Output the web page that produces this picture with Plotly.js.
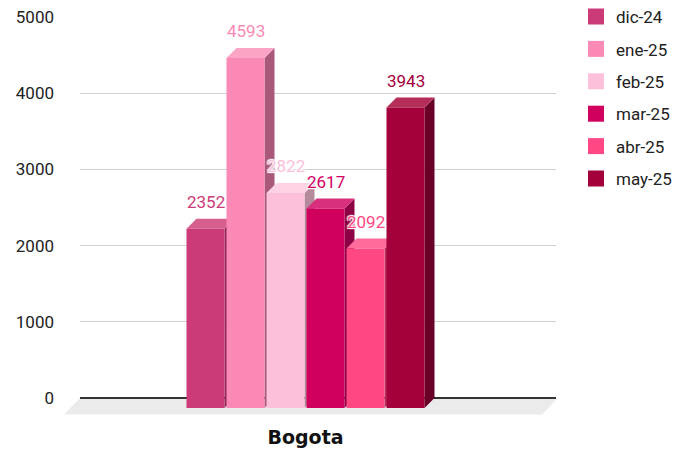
<!DOCTYPE html>
<html>
<head>
<meta charset="utf-8">
<script src="https://cdn.plot.ly/plotly-3.0.1.min.js"></script>
<style>
  html, body { margin: 0; padding: 0; background: #fff; }
  #chart { width: 678px; height: 451px; }
</style>
</head>
<body>
<div id="chart"></div>
<script>
// ---- data ----
const categories = ['Bogota'];
const months = ['dic-24', 'ene-25', 'feb-25', 'mar-25', 'abr-25', 'may-25'];
const values = [2352, 4593, 2822, 2617, 2092, 3943];

// ---- styles ----
const frontColors = ['#cc3b77', '#fa89b5', '#fcc0da', '#d1005f', '#ff4784', '#a4003b'];
const topColors   = ['#d65f8f', '#fca4c6', '#fdd2e4', '#d8307c', '#ff6b9b', '#b52d59'];
const sideColors  = ['#912857', '#a9587a', '#b58a9c', '#8d0044', '#b8335f', '#680027'];

// geometry (axis units)
const Y_MIN = -262, Y_MAX = 5000;
const X_MIN = -3.1375, X_MAX = 8.7625;
const BAR_W = 0.95;   // front face width
const DX = 0.25;      // depth offset in x units
const DY = 131;       // depth offset in y units

const traces = [];
values.forEach((v, i) => {
  const xc = i;
  const xL = xc - BAR_W / 2, xR = xc + BAR_W / 2;
  // side face
  traces.push({
    type: 'scatter', mode: 'lines', fill: 'toself', showlegend: false, hoverinfo: 'skip',
    x: [xR, xR, xR + DX, xR + DX, xR], y: [-DY, v - DY, v, 0, -DY],
    line: {width: 0, color: sideColors[i]}, fillcolor: sideColors[i]
  });
  // top face
  traces.push({
    type: 'scatter', mode: 'lines', fill: 'toself', showlegend: false, hoverinfo: 'skip',
    x: [xL, xR, xR + DX, xL + DX, xL], y: [v - DY, v - DY, v, v, v - DY],
    line: {width: 0, color: topColors[i]}, fillcolor: topColors[i]
  });
  // front face
  traces.push({
    type: 'scatter', mode: 'lines', fill: 'toself', showlegend: false,
    name: months[i], text: String(v), hoverinfo: 'name+text',
    x: [xL, xR, xR, xL, xL], y: [-DY, -DY, v - DY, v - DY, -DY],
    line: {width: 0, color: frontColors[i]}, fillcolor: frontColors[i]
  });
});
// legend entries
months.forEach((m, i) => {
  traces.push({
    type: 'scatter', mode: 'markers', x: [null], y: [null], name: m,
    legendgroup: m, showlegend: true,
    marker: {symbol: 'square', size: 16, color: frontColors[i]}
  });
});

const halo = '1px 1px 1px #fff, -1px -1px 1px #fff, 1px -1px 1px #fff, -1px 1px 1px #fff';
const annotations = values.map((v, i) => ({
  x: i, y: v, xref: 'x', yref: 'y', text: String(v), showarrow: false,
  yshift: 17, xanchor: 'center', yanchor: 'middle',
  font: {family: 'Roboto, Arial, sans-serif', size: 17, color: frontColors[i], shadow: halo}
}));

// floor (decoration), in paper coords derived from axis ranges
const yZero = (0 - Y_MIN) / (Y_MAX - Y_MIN);
const plotW = 678 - 80 - 122, plotH = 451 - 17 - 33;
const fx = 16 / plotW, fy = 16.5 / plotH;
const shapes = [{
  type: 'path', xref: 'paper', yref: 'paper', layer: 'below',
  path: `M 0,${yZero} L ${1 + 2 / plotW},${yZero} L ${1 + 2 / plotW - fx},${yZero - fy} L ${-fx},${yZero - fy} Z`,
  fillcolor: '#ebebeb', line: {width: 0}
}];

const layout = {
  width: 678, height: 451,
  margin: {l: 80, r: 122, t: 17, b: 33, autoexpand: false},
  paper_bgcolor: '#fff', plot_bgcolor: 'rgba(0,0,0,0)',
  showlegend: true,
  legend: {
    x: 1.042, xanchor: 'left', y: 1.045, yanchor: 'top',
    font: {family: 'Roboto, Arial, sans-serif', size: 17, color: '#222'},
    itemsizing: 'trace', tracegroupgap: 7.3, bgcolor: 'rgba(0,0,0,0)'
  },
  xaxis: {
    type: 'linear', range: [X_MIN, X_MAX], fixedrange: true,
    showgrid: false, zeroline: false, showline: false, ticks: '',
    tickmode: 'array', tickvals: [(values.length - 1) / 2], ticktext: categories,
    tickfont: {family: 'DejaVu Sans, sans-serif', size: 19, color: '#111', weight: 'bold'},
    ticklabelstandoff: 6
  },
  yaxis: {
    range: [Y_MIN, Y_MAX], fixedrange: true, dtick: 1000, tick0: 0,
    showgrid: true, gridcolor: '#cfcfcf', gridwidth: 1,
    zeroline: true, zerolinecolor: '#333', zerolinewidth: 1.5,
    showline: false, ticks: '',
    tickfont: {family: 'Roboto, Arial, sans-serif', size: 17, color: '#222'},
    ticklabelstandoff: 25
  },
  annotations: annotations,
  shapes: shapes
};

Plotly.newPlot('chart', traces, layout, {displayModeBar: false, staticPlot: true});
</script>
</body>
</html>
